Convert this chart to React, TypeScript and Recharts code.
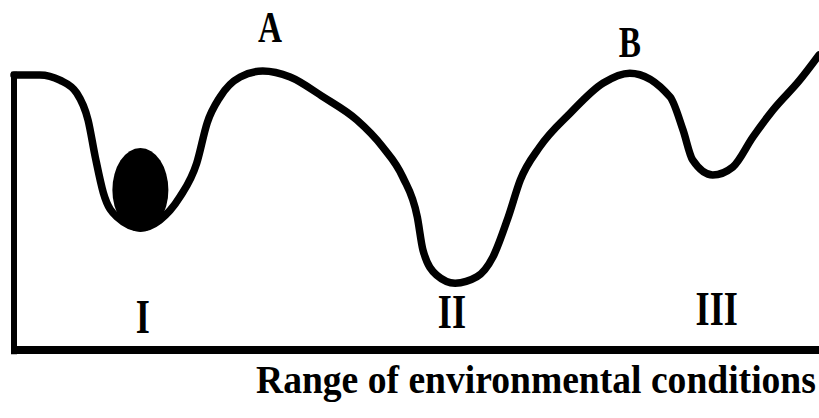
import {
  ComposedChart,
  Line,
  XAxis,
  YAxis,
  ReferenceDot,
  ReferenceLine,
  Label,
} from "recharts";

// position along the environmental range (0-100) and height of the landscape (0-100)
const envX = [
  0, 3.2, 5.7, 7.8, 9.2, 10.1, 11.1, 12.8, 15.7, 18.1, 20.6, 22.7, 24, 25.6, 28.1,
  30.9, 34.3, 38.4, 42.6, 45.8, 48.3, 50.1, 50.8, 52.5, 54.8, 57.5, 59.5, 61.4,
  62.9, 65.3, 69.1, 73.2, 76.5, 81.5, 83.1, 84.3, 86.8, 89.3, 91.8, 94.3, 97.6, 100,
];
const height = [
  78.6, 78.6, 77.1, 73.4, 65.7, 55.1, 44.9, 38, 34.9, 37.1, 43.7, 53.4, 64.9, 72.3,
  78, 79.7, 78, 72.3, 65.7, 58, 49.4, 38, 28.6, 21.4, 19.1, 20.9, 26.6, 38, 48.6,
  58, 67.7, 76.3, 79.1, 72.3, 62.9, 54.3, 50, 52.3, 60.9, 68.6, 77.1, 84.3,
];

// peaks and valleys labels
const markNames = ["A", "B", "I", "II", "III"];
const markX = [31.8, 76.5, 16, 54.4, 87.3];
const markY = [88, 83.7, 4.9, 6.3, 7.1];
const markSize = [45, 45, 49, 49, 49];

// the ball sitting in valley I
const ballX = 15.7;
const ballY = 45.7;

const caption = "Range of environmental conditions";

const data = envX.map((x, i) => ({ x, y: height[i] }));

const FONT = "'Liberation Serif', 'Times New Roman', serif";

const MarkText = (name: string, size: number) => (props: any) => {
  const { cx, cy } = props;
  return (
    <g transform={`translate(${cx},${cy}) scale(0.74,1)`}>
      <text
        x={0}
        y={0}
        textAnchor="middle"
        fontFamily={FONT}
        fontWeight="bold"
        fontSize={size}
        fill="#000"
      >
        {name}
      </text>
    </g>
  );
};

const Ball = (props: any) => {
  const { cx, cy } = props;
  return <ellipse cx={cx} cy={cy} rx={28} ry={42} fill="#000" />;
};

const Caption = (props: any) => {
  const vb = props.viewBox || { x: 14, y: 350 };
  // squeeze the caption horizontally, like the condensed print in the original
  return (
    <g transform={`translate(${vb.x + 242},${vb.y + 43}) scale(0.94,1)`}>
      <text
        x={0}
        y={0}
        fontFamily={FONT}
        fontWeight="bold"
        fontSize={40}
        fill="#000"
      >
        {caption}
      </text>
    </g>
  );
};

export default function App() {
  return (
    <div style={{ position: "absolute", left: 0, top: 0, background: "#fff" }}>
      <ComposedChart
        width={819}
        height={418}
        data={data}
        margin={{ top: 0, right: 0, left: 14, bottom: 0 }}
      >
        <XAxis
          type="number"
          dataKey="x"
          domain={[0, 100]}
          tick={false}
          tickLine={false}
          axisLine={{ stroke: "#000", strokeWidth: 8 }}
          height={68}
        >
          <Label content={Caption} />
        </XAxis>
        <YAxis type="number" domain={[0, 100]} hide />
        <ReferenceLine
          segment={[
            { x: 0, y: -1.2 },
            { x: 0, y: 79.5 },
          ]}
          stroke="#000"
          strokeWidth={6}
          ifOverflow="visible"
        />
        <Line
          type="monotone"
          dataKey="y"
          stroke="#000"
          strokeWidth={7.5}
          strokeLinecap="round"
          dot={false}
          isAnimationActive={false}
        />
        <ReferenceDot x={ballX} y={ballY} r={1} shape={Ball} />
        {markNames.map((n, i) => (
          <ReferenceDot
            key={n}
            x={markX[i]}
            y={markY[i]}
            r={1}
            shape={MarkText(n, markSize[i])}
          />
        ))}
      </ComposedChart>
    </div>
  );
}
